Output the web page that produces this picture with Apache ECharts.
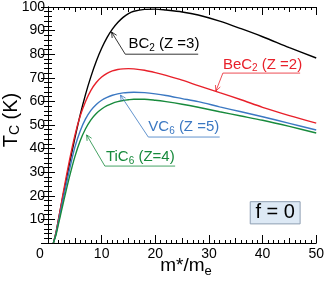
<!DOCTYPE html>
<html><head><meta charset="utf-8">
<script src="https://cdn.jsdelivr.net/npm/echarts@6/dist/echarts.min.js"></script>
<style>html,body{margin:0;padding:0;background:#fff}#c{width:327px;height:282px}</style>
</head><body><div id="c"></div>
<script>
const massRatio = [1,1.5,2,2.5,3,4,5,6,7,8,9,10,11,12,13,14,15,16,18,20,22,25,28,32,36,40,45,50];
const tcBC2  = [0,4.5,10.5,16.5,22.3,33.5,44.3,54.3,63,70.5,77,82.5,87,90.6,93.4,95.6,97.2,98.2,99,99.1,98.7,97.9,96.6,94,90.8,87.4,82.8,78.4];
const tcBeC2 = [0,4.5,10.5,17,23.3,35,45.5,53.8,60,64.7,68,70.3,71.9,72.9,73.5,73.8,73.9,73.8,73.2,72.2,71,69,66.7,63.7,60.7,57.5,54,50.8];
const tcVC6  = [0,4,9.5,15,20.5,31,40.5,47.5,52.6,56.2,58.7,60.5,61.7,62.6,63.2,63.6,63.8,63.9,63.7,63.2,62.5,61.2,59.9,57.7,55.6,53.5,50.7,47.9];
const tcTiC6 = [0,3.5,8.5,13.5,18.5,28,36.5,43.3,48.4,52.2,54.9,56.8,58.2,59.2,59.9,60.4,60.7,60.9,60.9,60.5,59.9,58.8,57.5,55.6,53.8,52,49.4,46.6];
const seriesNames = ['BC2','BeC2','VC6','TiC6'];
const colors = ['#000000','#e8202a','#3b78c2','#178a3c'];
const xTicks = [0,10,20,30,40,50];
const yTicks = [10,20,30,40,50,60,70,80,90,100];

const FONT = 'Liberation Sans, Arial, sans-serif';
const chart = echarts.init(document.getElementById('c'));
const pair = (ys) => massRatio.map((x,i)=>[x, ys[i]]);
const allY = [tcBC2, tcBeC2, tcVC6, tcTiC6];

function xAx(pos, interval, len, labels, minor, line){
  return {type:'value', position:pos, min:0, max:50, interval:interval,
    axisLine:{show:line, lineStyle:{color:'#000', width:1}},
    axisTick:{show:true, inside:true, length:len, lineStyle:{color:'#000', width:1}},
    minorTick:{show:minor, splitNumber:10, length:3, lineStyle:{color:'#000', width:1}},
    splitLine:{show:false},
    axisLabel:{show:labels, margin:4, fontSize:14, fontFamily:FONT, color:'#000',
      formatter: v => v===0 ? '{z|0}' : (xTicks.includes(v) ? String(v) : ''),
      rich:{z:{fontSize:14, fontFamily:FONT, color:'#000', padding:[0,16,0,0]}}}
  };
}
function yAx(pos, labels){
  return {type:'value', position:pos, min:0, max:100, interval:10,
    axisLine:{show:true, lineStyle:{color:'#000', width:1}},
    axisTick:{show:true, inside:true, length:7, lineStyle:{color:'#000', width:1}},
    minorTick:{show:true, splitNumber:5, length:4, lineStyle:{color:'#000', width:1}},
    splitLine:{show:false},
    axisLabel:{show:labels, margin:3, fontSize:14, fontFamily:FONT, color:'#000',
      formatter: v => yTicks.includes(v) ? String(v) : ''}
  };
}

chart.setOption({
  animation:false,
  grid:{left:48, right:8, top:7, bottom:39},
  xAxis:[xAx('bottom',10,8,true,true,true), xAx('bottom',5,5,false,false,false),
         xAx('top',10,8,false,true,true), xAx('top',5,5,false,false,false)],
  yAxis:[yAx('left',true), yAx('right',false)],
  series: allY.map((ys,i)=>({type:'line', name:seriesNames[i], data:pair(ys), smooth:0.3,
    showSymbol:false, lineStyle:{color:colors[i], width:1.4}, xAxisIndex:0, yAxisIndex:0, z:3}))
});

function P(x,y){ return chart.convertToPixel({xAxisIndex:0, yAxisIndex:0},[x,y]); }

const notes = [
  {base:'BC', sub:'2', rest:' (Z =3)', c:colors[0], text:[15,84.3], path:[[28,80],[14.4,80],[11.85,89.4]]},
  {base:'BeC', sub:'2', rest:' (Z =2)', c:colors[1], text:[32.6,75.6], path:[[47,72],[32.6,72],[31.3,64.4]]},
  {base:'VC', sub:'6', rest:' (Z =5)', c:colors[2], text:[18.7,49.2], path:[[32,44.9],[18.7,44.9],[13.5,62.7]]},
  {base:'TiC', sub:'6', rest:' (Z=4)', c:colors[3], text:[10.8,36.4], path:[[23.7,32.6],[10.6,32.6],[7.2,45.8]]}
];
const g = [];
notes.forEach(n=>{
  const tp = P(n.text[0], n.text[1]);
  g.push({type:'text', x:tp[0], y:tp[1], z:10, style:{
    text:'{a|'+n.base+'}{s|'+n.sub+'}{a|'+n.rest+'}', fill:n.c, verticalAlign:'middle', align:'left',
    rich:{a:{fontSize:15, fontFamily:FONT, fill:n.c}, s:{fontSize:10, fontFamily:FONT, fill:n.c, padding:[8,0,0,0]}}}});
  const pts = n.path.map(p=>P(p[0],p[1]));
  g.push({type:'polyline', z:10, shape:{points:pts}, style:{stroke:n.c, lineWidth:0.8, fill:null}});
  const t = pts[pts.length-1], p = pts[pts.length-2];
  let dx=t[0]-p[0], dy=t[1]-p[1]; const L=Math.hypot(dx,dy); dx/=L; dy/=L;
  const a=0.45, h=6;
  const r = (ang)=>[t[0]-h*(dx*Math.cos(ang)-dy*Math.sin(ang)), t[1]-h*(dx*Math.sin(ang)+dy*Math.cos(ang))];
  g.push({type:'polyline', z:10, shape:{points:[r(a), t, r(-a)]}, style:{stroke:n.c, lineWidth:0.8, fill:null}});
});
const b1 = P(37.7,17.5), b2 = P(47,8.1);
g.push({type:'rect', z:9, shape:{x:b1[0], y:b1[1], width:b2[0]-b1[0], height:b2[1]-b1[1]},
  style:{fill:'#dde9f5', stroke:'#8f9fb3', lineWidth:1}});
g.push({type:'text', z:10, x:(b1[0]+b2[0])/2, y:(b1[1]+b2[1])/2, style:{text:'f = 0', fontSize:20, fontFamily:FONT, fill:'#000', align:'center', verticalAlign:'middle'}});
g.push({type:'text', z:10, x:11, y:120, rotation:Math.PI/2, style:{
  text:'{a|T}{s|C}{a| (K)}', align:'center', verticalAlign:'middle',
  rich:{a:{fontSize:20, fontFamily:FONT, fill:'#000'}, s:{fontSize:14, fontFamily:FONT, fill:'#000', padding:[9,0,0,0]}}}});
g.push({type:'text', z:10, x:186, y:266, style:{
  text:'{a|m*/m}{s|e}', align:'center', verticalAlign:'middle',
  rich:{a:{fontSize:19, fontFamily:FONT, fill:'#000'}, s:{fontSize:13, fontFamily:FONT, fill:'#000', padding:[10,0,0,0]}}}});
chart.setOption({graphic:g});
</script></body></html>
